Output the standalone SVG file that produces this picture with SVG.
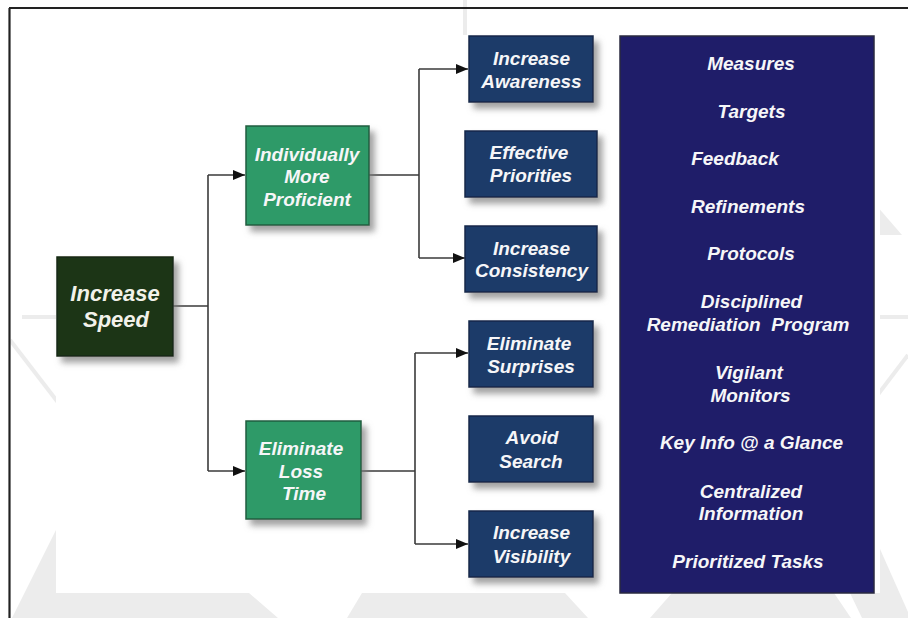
<svg xmlns="http://www.w3.org/2000/svg" width="908" height="618" viewBox="0 0 908 618">
<defs>
<filter id="sh" x="-20%" y="-20%" width="150%" height="150%">
<feDropShadow dx="5" dy="6" stdDeviation="3" flood-color="#7a7a7a" flood-opacity="0.7"/>
</filter>
<marker id="arr" markerUnits="userSpaceOnUse" markerWidth="13" markerHeight="11" refX="12" refY="5" orient="auto">
<path d="M0,0 L12,5 L0,10 z" fill="#111"/>
</marker>
</defs>
<style>
.wm{fill:#ececec;stroke:none}
.wml{stroke:#ececec;stroke-width:4;fill:none}
.c{stroke:#3a3a3a;stroke-width:1.6;fill:none}
.t{font-family:"Liberation Sans",Arial,sans-serif;font-weight:bold;font-style:italic;font-size:19px;fill:#f6f6f8;text-anchor:middle}
.big{font-size:22px;fill:#f2f2ea}
.dg{fill:#1b3519;stroke:#142812;stroke-width:1.5}
.g{fill:#2f9a67;stroke:#1f5e3f;stroke-width:1.5}
.b{fill:#1f3a69;stroke:#15284a;stroke-width:1.5}
.p{fill:#1f1d69;stroke:#2a2a40;stroke-width:1.5}
</style>
<rect width="908" height="618" fill="#ffffff"/>
<g id="watermark">
<rect class="wm" x="463" y="0" width="4" height="35"/>
<line class="wml" x1="22" y1="317" x2="908" y2="317"/>
<line class="wml" x1="10" y1="340" x2="60" y2="405"/>
<line class="wml" x1="908" y1="355" x2="870" y2="405"/>
<polygon class="wm" points="876,205 902,235 876,235"/>
<polygon class="wm" points="56,530 56,593 249,593 278,618 12,618"/>
<polygon class="wm" points="362,593 565,593 588,618 347,618"/>
<polygon class="wm" points="672,593 834,593 851,618 650,618"/>
<polygon class="wm" points="876,540 908,612 908,618 862,618 850,593 876,593"/>
<rect x="56" y="35" width="824" height="558" fill="#ffffff"/>
</g>
<g id="frame">
<line x1="9" y1="8" x2="908" y2="8" stroke="#222" stroke-width="2.2"/>
<line x1="9.5" y1="8" x2="9.5" y2="618" stroke="#222" stroke-width="2.2"/>
</g>
<g id="connectors">
<polyline class="c" points="173,306 208,306"/>
<polyline class="c" points="208,175 208,471"/>
<line class="c" x1="208" y1="175" x2="245" y2="175" marker-end="url(#arr)"/>
<line class="c" x1="208" y1="471" x2="245" y2="471" marker-end="url(#arr)"/>
<polyline class="c" points="369,175 419,175"/>
<polyline class="c" points="419,69 419,258"/>
<line class="c" x1="419" y1="69" x2="468" y2="69" marker-end="url(#arr)"/>
<line class="c" x1="419" y1="258" x2="465" y2="258" marker-end="url(#arr)"/>
<polyline class="c" points="361,471 415,471"/>
<polyline class="c" points="415,353 415,544"/>
<line class="c" x1="415" y1="353" x2="468" y2="353" marker-end="url(#arr)"/>
<line class="c" x1="415" y1="544" x2="468" y2="544" marker-end="url(#arr)"/>
</g>
<g id="increase-speed">
<rect class="dg" x="57" y="257" width="116" height="99" filter="url(#sh)"/>
<text class="t big" x="115" y="301">Increase</text>
<text class="t big" x="116" y="327">Speed</text>
</g>
<g id="individually-more-proficient">
<rect class="g" x="246" y="126" width="123" height="99" filter="url(#sh)"/>
<text class="t" x="307" y="161">Individually</text>
<text class="t" x="307" y="183">More</text>
<text class="t" x="307" y="205.5">Proficient</text>
</g>
<g id="eliminate-loss-time">
<rect class="g" x="246" y="421" width="115" height="98" filter="url(#sh)"/>
<text class="t" x="301" y="455">Eliminate</text>
<text class="t" x="301" y="477.5">Loss</text>
<text class="t" x="304" y="500">Time</text>
</g>
<g id="increase-awareness">
<rect class="b" x="469" y="36" width="124" height="66" filter="url(#sh)"/>
<text class="t" x="531.5" y="65">Increase</text>
<text class="t" x="531.5" y="88">Awareness</text>
</g>
<g id="effective-priorities">
<rect class="b" x="465" y="131" width="132" height="66" filter="url(#sh)"/>
<text class="t" x="529" y="159">Effective</text>
<text class="t" x="531" y="182">Priorities</text>
</g>
<g id="increase-consistency">
<rect class="b" x="465" y="226" width="132" height="66" filter="url(#sh)"/>
<text class="t" x="531.5" y="254.5">Increase</text>
<text class="t" x="531.5" y="277">Consistency</text>
</g>
<g id="eliminate-surprises">
<rect class="b" x="469" y="321" width="124" height="66" filter="url(#sh)"/>
<text class="t" x="529" y="350">Eliminate</text>
<text class="t" x="531" y="372.5">Surprises</text>
</g>
<g id="avoid-search">
<rect class="b" x="469" y="416" width="124" height="66" filter="url(#sh)"/>
<text class="t" x="532" y="444">Avoid</text>
<text class="t" x="531" y="467.5">Search</text>
</g>
<g id="increase-visibility">
<rect class="b" x="469" y="511" width="124" height="66" filter="url(#sh)"/>
<text class="t" x="531.5" y="539">Increase</text>
<text class="t" x="531.5" y="562.5">Visibility</text>
</g>
<g id="panel">
<rect class="p" x="620" y="36" width="254" height="557"/>
<text class="t" x="751" y="70">Measures</text>
<text class="t" x="751.5" y="117.5">Targets</text>
<text class="t" x="735" y="164.5">Feedback</text>
<text class="t" x="748" y="212.5">Refinements</text>
<text class="t" x="751" y="260">Protocols</text>
<text class="t" x="751.5" y="308">Disciplined</text>
<text class="t" x="748" y="331" xml:space="preserve">Remediation  Program</text>
<text class="t" x="749" y="378.5">Vigilant</text>
<text class="t" x="750.5" y="402">Monitors</text>
<text class="t" x="751.5" y="449">Key Info @ a Glance</text>
<text class="t" x="751" y="497.5">Centralized</text>
<text class="t" x="751" y="519.5">Information</text>
<text class="t" x="748" y="567.5">Prioritized Tasks</text>
</g>
</svg>
